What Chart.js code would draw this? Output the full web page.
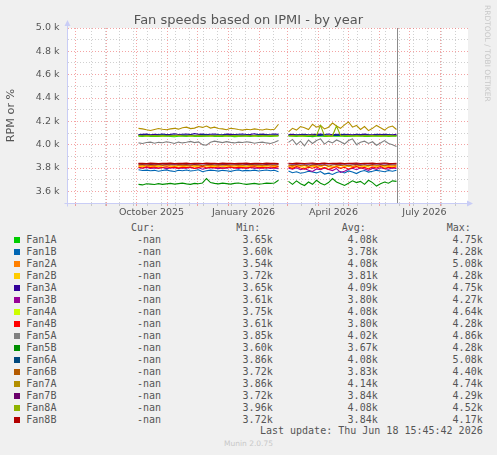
<!DOCTYPE html>
<html>
<head>
<meta charset="utf-8">
<script src="https://cdn.jsdelivr.net/npm/chart.js@4.4.0/dist/chart.umd.min.js"></script>
<style>
  html, body { margin: 0; padding: 0; background: #f0f0f0; }
  #wrap { position: relative; width: 497px; height: 455px; overflow: hidden; }
  #chart { position: absolute; left: 0; top: 0; }
  #title { position: absolute; left: 0; width: 497px; top: 11.5px; text-align: center; font-family: 'DejaVu Sans', sans-serif; font-size: 13px; line-height: 16px; color: #555; }
  .mono { position: absolute; font-family: 'DejaVu Sans Mono', monospace; font-size: 10px; line-height: 12px; color: #555; white-space: pre; }
  .sq { position: absolute; width: 6px; height: 6px; }
  #munin { position: absolute; left: 0; width: 497px; top: 439px; text-align: center; font-family: 'DejaVu Sans', sans-serif; font-size: 7.5px; line-height: 10px; color: #c8c8c8; }
  #rrd { position: absolute; left: 483px; top: 5px; writing-mode: vertical-rl; font-family: 'DejaVu Sans', sans-serif; font-size: 7.5px; line-height: 9px; color: #c8c8c8; }
</style>
</head>
<body>
<div id="wrap">
  <canvas id="chart" width="497" height="222"></canvas>
  <div id="title">Fan speeds based on IPMI - by year</div>
  <div id="legend"></div>
  <div id="rrd">RRDTOOL / TOBI OETIKER</div>
  <div id="munin">Munin 2.0.75</div>
</div>
<script>
// ---- data ----
const seriesNames = ['Fan1A','Fan1B','Fan2A','Fan2B','Fan3A','Fan3B','Fan4A','Fan4B','Fan5A','Fan5B','Fan6A','Fan6B','Fan7A','Fan7B','Fan8A','Fan8B'];
const seriesColors = ['#00cc00','#0066b3','#ff8000','#ffcc00','#330099','#990099','#ccff00','#ff0000','#808080','#008f00','#00487d','#b35a00','#b38f00','#6b006b','#8fb300','#b30000'];
const curValues = ['-nan','-nan','-nan','-nan','-nan','-nan','-nan','-nan','-nan','-nan','-nan','-nan','-nan','-nan','-nan','-nan'];
const minValues = ['3.65k','3.60k','3.54k','3.72k','3.65k','3.61k','3.75k','3.61k','3.85k','3.60k','3.86k','3.72k','3.86k','3.72k','3.96k','3.72k'];
const avgValues = ['4.08k','3.78k','4.08k','3.81k','4.09k','3.80k','4.08k','3.80k','4.02k','3.67k','4.08k','3.83k','4.14k','3.84k','4.08k','3.84k'];
const maxValues = ['4.75k','4.28k','5.08k','4.28k','4.75k','4.27k','4.64k','4.28k','4.86k','4.28k','5.08k','4.40k','4.74k','4.29k','4.52k','4.17k'];

// samples: 36 points from seg1Start, a gap, 28 points from seg2Start, every 4 days
const seg1Start = '2025-10-03';
const seg2Start = '2026-03-02';
const gapDate = '2026-02-25';
const sampleStepDays = 4;

const fan1A = [
  4072,4070,4074,4071,4073,4070,4072,4075,4071,4069,4073,4072,
  4070,4074,4071,4072,4070,4073,4075,4071,4072,4070,4074,4072,
  4069,4071,4073,4072,4070,4074,4071,4072,4073,4070,4072,4074,
  null,
  4074,4072,4070,4075,4071,4073,4069,4072,4074,4071,4070,4073,4072,4075,
  4071,4070,4073,4072,4074,4070,4071,4073,4072,4070,4074,4071,4072,4073];
const fan1B = [
  3785,3778,3782,3776,3780,3772,3779,3784,3775,3770,3781,3777,
  3783,3774,3779,3785,3768,3776,3782,3778,3773,3780,3776,3771,
  3779,3784,3775,3780,3777,3782,3774,3779,3783,3776,3781,3768,
  null,
  3775,3760,3768,3755,3762,3772,3765,3758,3770,3748,3756,3745,3762,3770,
  3758,3775,3766,3752,3770,3778,3765,3772,3780,3774,3768,3778,3772,3780];
const fan2A = [
  3822,3818,3825,3820,3823,3817,3821,3826,3819,3815,3824,3820,
  3822,3818,3825,3819,3810,3821,3824,3818,3822,3816,3823,3820,
  3818,3824,3821,3817,3823,3820,3825,3818,3822,3819,3824,3815,
  null,
  3820,3812,3826,3815,3822,3808,3824,3818,3812,3825,3816,3806,3820,3826,
  3814,3822,3810,3825,3818,3812,3824,3820,3815,3826,3818,3822,3816,3824];
const fan2B = [
  3812,3815,3808,3814,3810,3816,3811,3807,3813,3816,3809,3814,
  3811,3806,3814,3810,3815,3808,3812,3816,3809,3813,3811,3815,
  3808,3813,3816,3810,3814,3809,3812,3815,3811,3807,3814,3812,
  null,
  3815,3805,3812,3818,3800,3810,3816,3806,3814,3798,3812,3808,3816,3804,
  3812,3818,3802,3814,3808,3816,3810,3804,3814,3818,3808,3815,3810,3816];
const fan3A = [
  4086,4088,4090,4085,4089,4087,4092,4086,4088,4094,4087,4089,
  4091,4086,4095,4088,4090,4086,4089,4092,4087,4085,4090,4088,
  4086,4089,4091,4087,4088,4093,4086,4090,4087,4089,4092,4088,
  null,
  4086,4088,4084,4087,4089,4085,4088,4086,4090,4087,4092,4085,4088,4086,
  4089,4087,4085,4088,4086,4090,4087,4085,4088,4086,4089,4087,4085,4088];
const fan3B = [
  3802,3798,3805,3796,3801,3799,3804,3795,3800,3803,3797,3801,
  3799,3804,3796,3802,3790,3798,3803,3800,3795,3801,3798,3804,
  3800,3796,3802,3799,3805,3797,3801,3798,3803,3796,3800,3794,
  null,
  3798,3790,3802,3785,3795,3780,3770,3792,3785,3800,3788,3778,3795,3762,
  3772,3790,3798,3785,3802,3792,3780,3798,3788,3802,3795,3790,3800,3796];
const fan4A = [
  4076,4078,4075,4077,4079,4076,4074,4078,4077,4075,4079,4076,
  4078,4075,4077,4080,4076,4078,4074,4077,4079,4076,4075,4078,
  4077,4075,4079,4076,4078,4074,4077,4079,4076,4078,4075,4077,
  null,
  4078,4076,4079,4077,4075,4078,4080,4076,4077,4079,4075,4078,4076,4077,
  4079,4076,4078,4075,4077,4079,4076,4078,4077,4075,4079,4076,4078,4077];
const fan4B = [
  3806,3800,3810,3803,3808,3798,3805,3811,3802,3807,3799,3806,
  3803,3809,3797,3805,3812,3800,3806,3802,3808,3798,3804,3809,
  3801,3807,3803,3799,3806,3810,3802,3805,3800,3808,3803,3812,
  null,
  3808,3795,3812,3800,3790,3806,3798,3810,3792,3804,3788,3800,3810,3796,
  3806,3790,3802,3812,3798,3805,3792,3808,3800,3812,3796,3806,3802,3808];
const fan5A = [
  4015,4010,4018,4022,4012,4020,4016,4025,4018,4010,4022,4015,
  4020,4028,4018,4024,4000,3995,4020,4030,4024,4018,4026,4020,
  4015,4022,4018,4025,4020,4012,4018,4022,4015,4010,4020,4035,
  null,
  4020,4045,4000,4030,3990,4040,4010,4035,4050,4005,4030,4015,4040,4025,
  4005,4035,4050,4000,4020,4030,4010,4025,3995,4015,4035,4010,4000,3985];
const fan5B = [
  3660,3655,3665,3662,3658,3666,3660,3664,3668,3662,3666,3670,
  3664,3660,3668,3665,3672,3710,3675,3668,3664,3670,3666,3662,
  3668,3672,3665,3660,3664,3668,3662,3665,3670,3668,3672,3695,
  null,
  3685,3660,3690,3665,3650,3680,3660,3695,3670,3655,3675,3710,3680,3665,
  3650,3670,3690,3675,3685,3660,3695,3675,3645,3665,3680,3670,3690,3685];
const fan6A = [
  4082,4080,4083,4081,4079,4082,4084,4080,4081,4083,4079,4082,
  4080,4083,4081,4079,4084,4082,4080,4081,4083,4080,4082,4079,
  4081,4083,4080,4082,4079,4081,4084,4080,4082,4081,4083,4080,
  null,
  4081,4079,4082,4080,4083,4081,4079,4082,4080,4084,4081,4079,4082,4080,
  4083,4081,4079,4082,4080,4081,4083,4079,4082,4080,4081,4083,4080,4078];
const fan6B = [
  3828,3830,3826,3829,3827,3831,3825,3829,3828,3826,3830,3827,
  3829,3825,3830,3827,3820,3828,3831,3826,3829,3827,3830,3826,
  3828,3830,3826,3829,3831,3827,3828,3825,3830,3828,3826,3829,
  null,
  3826,3820,3830,3822,3828,3816,3826,3831,3820,3828,3815,3826,3830,3822,
  3828,3818,3826,3831,3822,3828,3820,3830,3824,3828,3820,3830,3826,3828];
const fan7A = [
  4140,4135,4128,4122,4130,4138,4132,4128,4135,4140,4133,4145,
  4150,4138,4142,4155,4148,4160,4142,4150,4138,4135,4128,4140,
  4136,4130,4125,4132,4128,4135,4130,4126,4134,4128,4132,4175,
  null,
  4110,4140,4125,4155,4145,4130,4175,4150,4165,4135,4150,4185,4160,4140,
  4170,4195,4150,4165,4130,4155,4120,4140,4165,4145,4125,4150,4160,4130];
const fan7B = [
  3835,3834,3836,3833,3835,3837,3834,3836,3835,3833,3836,3834,
  3835,3837,3833,3836,3834,3835,3837,3834,3836,3833,3835,3836,
  3834,3836,3835,3833,3837,3834,3836,3835,3833,3836,3834,3835,
  null,
  3836,3833,3835,3837,3834,3832,3836,3835,3833,3837,3834,3836,3835,3833,
  3836,3834,3837,3835,3833,3836,3834,3835,3837,3833,3836,3834,3835,3836];
const fan8A = [
  4078,4076,4079,4077,4078,4075,4079,4077,4076,4078,4080,4077,
  4076,4079,4077,4078,4075,4077,4079,4076,4078,4077,4079,4076,
  4078,4077,4075,4079,4076,4078,4077,4079,4076,4078,4077,4079,
  null,
  4077,4079,4076,4078,4077,4079,4076,4078,4165,4077,4079,4076,4160,4078,
  4076,4079,4077,4078,4076,4079,4077,4078,4076,4079,4077,4078,4076,4077];
const fan8B = [
  3840,3841,3839,3842,3840,3838,3841,3840,3842,3839,3841,3840,
  3842,3839,3841,3840,3838,3842,3840,3841,3839,3842,3840,3841,
  3839,3841,3840,3842,3838,3841,3840,3839,3842,3840,3841,3839,
  null,
  3841,3839,3842,3840,3838,3841,3843,3839,3840,3842,3838,3841,3840,3842,
  3839,3841,3840,3843,3838,3841,3840,3842,3839,3841,3843,3840,3838,3841];
const seriesValues = [fan1A,fan1B,fan2A,fan2B,fan3A,fan3B,fan4A,fan4B,fan5A,fan5B,fan6A,fan6B,fan7A,fan7B,fan8A,fan8B];

// axes
const xStart = '2025-07-23T12';
const xEnd = '2026-08-28T12';
const lastUpdate = '2026-06-18T15:45';
const monthGrid = ['2025-08-01','2025-09-01','2025-10-01','2025-11-01','2025-12-01','2026-01-01',
  '2026-02-01','2026-03-01','2026-04-01','2026-05-01','2026-06-01','2026-07-01','2026-08-01'];
const minorGridStart = '2025-08-17';
const minorGridStepDays = 14;
const xTickLabels = ['October 2025','January 2026','April 2026','July 2026'];
const xTickDates = ['2025-10-16','2026-01-16','2026-04-16','2026-07-16'];
const yMin = 3500, yMax = 5000, yStep = 100;
const yLabelValues = [3600,3800,4000,4200,4400,4600,4800,5000];

// ---- helpers ----
const DAY = 86400000;
function toTime(s) {
  const m = s.match(/(\d+)-(\d+)-(\d+)(?:T(\d+)(?::(\d+))?)?/);
  return Date.UTC(+m[1], +m[2] - 1, +m[3], +(m[4] || 0), +(m[5] || 0));
}

const sampleTimes = [];
for (let i = 0; i < 36; i++) sampleTimes.push(toTime(seg1Start) + i * sampleStepDays * DAY);
sampleTimes.push(toTime(gapDate));
for (let i = 0; i < 28; i++) sampleTimes.push(toTime(seg2Start) + i * sampleStepDays * DAY);

const xMin = toTime(xStart), xMax = toTime(xEnd);
const majorSet = new Set(monthGrid.map(toTime));
const minorSet = new Set();
for (let t = toTime(minorGridStart); t < xMax; t += minorGridStepDays * DAY) minorSet.add(t);
const labelMap = {};
xTickDates.forEach((d, i) => { labelMap[toTime(d)] = xTickLabels[i]; });
const xTicks = [...new Set([...majorSet, ...minorSet, ...Object.keys(labelMap).map(Number)])].sort((a, b) => a - b);

const majorColor = 'rgba(235,90,90,0.55)';
const minorColor = 'rgba(150,150,150,0.45)';
const axisColor = '#c9cdf6';
const textColor = '#555555';

const datasets = seriesNames.map((name, i) => ({
  label: name,
  data: sampleTimes.map((t, j) => ({ x: t, y: seriesValues[i][j] })),
  borderColor: seriesColors[i],
  borderWidth: 1.1,
  pointRadius: 0,
  tension: 0,
  order: seriesNames.length - i
}));

const plotDecor = {
  id: 'plotDecor',
  beforeDraw(chart) {
    const { ctx, chartArea: a } = chart;
    ctx.save();
    ctx.fillStyle = '#ffffff';
    ctx.fillRect(a.left, a.top, a.right - a.left, a.bottom - a.top);
    ctx.restore();
  },
  afterDatasetsDraw(chart) {
    const { ctx, chartArea: a } = chart;
    const x = Math.round(chart.scales.x.getPixelForValue(toTime(lastUpdate))) + 0.5;
    ctx.save();
    ctx.strokeStyle = '#8c8c8c';
    ctx.lineWidth = 1;
    ctx.beginPath();
    ctx.moveTo(x, a.top);
    ctx.lineTo(x, a.bottom);
    ctx.stroke();
    ctx.restore();
  },
  afterDraw(chart) {
    const { ctx, chartArea: a } = chart;
    const xl = Math.round(a.left) + 0.5, yb = Math.round(a.bottom) + 0.5;
    ctx.save();
    ctx.strokeStyle = axisColor;
    ctx.fillStyle = axisColor;
    ctx.lineWidth = 1;
    ctx.beginPath();
    ctx.moveTo(xl, a.top); ctx.lineTo(xl, a.top - 3);
    ctx.moveTo(xl, yb); ctx.lineTo(xl, yb + 3);
    ctx.moveTo(xl, yb); ctx.lineTo(xl - 3, yb);
    ctx.stroke();
    ctx.beginPath();
    ctx.moveTo(xl, a.top - 8); ctx.lineTo(xl - 3, a.top - 2); ctx.lineTo(xl + 3, a.top - 2);
    ctx.closePath(); ctx.fill();
    ctx.beginPath();
    ctx.moveTo(a.right + 5, yb); ctx.lineTo(a.right - 1, yb - 3); ctx.lineTo(a.right - 1, yb + 3);
    ctx.closePath(); ctx.fill();
    ctx.restore();
  }
};

new Chart(document.getElementById('chart'), {
  type: 'line',
  data: { datasets: datasets },
  plugins: [plotDecor],
  options: {
    responsive: false,
    animation: false,
    events: [],
    layout: { padding: { left: 0, right: 29, top: 28, bottom: 0 } },
    plugins: {
      legend: { display: false },
      tooltip: { enabled: false },
      title: { display: false }
    },
    scales: {
      x: {
        type: 'linear',
        min: xMin,
        max: xMax,
        afterBuildTicks: s => { s.ticks = xTicks.map(v => ({ value: v })); },
        afterFit: s => { s.height = 19; },
        ticks: {
          autoSkip: false,
          maxRotation: 0,
          padding: 1,
          color: textColor,
          font: { family: 'DejaVu Sans', size: 9.5 },
          callback: v => labelMap[v] || ''
        },
        grid: {
          color: c => majorSet.has(c.tick.value) ? majorColor : (minorSet.has(c.tick.value) ? minorColor : 'rgba(0,0,0,0)'),
          tickLength: 3,
          lineWidth: 1
        },
        border: { color: axisColor, width: 1, dash: [1, 2] }
      },
      y: {
        type: 'linear',
        min: yMin,
        max: yMax,
        afterBuildTicks: s => {
          const t = [];
          for (let v = yMin; v <= yMax; v += yStep) t.push({ value: v });
          s.ticks = t;
        },
        afterFit: s => { s.width = 67; },
        ticks: {
          autoSkip: false,
          padding: 7.5,
          color: textColor,
          font: { family: 'DejaVu Sans', size: 9.5 },
          callback: v => yLabelValues.includes(v) ? (v / 1000).toFixed(1) + ' k' : ''
        },
        grid: {
          color: c => c.tick.value === yMin ? 'rgba(0,0,0,0)' : (yLabelValues.includes(c.tick.value) ? majorColor : minorColor),
          drawTicks: false,
          lineWidth: 1
        },
        border: { color: axisColor, width: 1, dash: [1, 2] },
        title: {
          display: true,
          text: 'RPM or %',
          color: textColor,
          font: { family: 'DejaVu Sans', size: 11.2 },
          padding: { top: 4, bottom: 0 }
        }
      }
    }
  }
});

// ---- legend table ----
const legend = document.getElementById('legend');
function addText(text, top, left, right) {
  const el = document.createElement('div');
  el.className = 'mono';
  el.textContent = text;
  el.style.top = top + 'px';
  if (left !== null) el.style.left = left + 'px';
  else el.style.right = right + 'px';
  legend.appendChild(el);
}
const headerY = 228.3, rowY0 = 239.7, rowStep = 12;
addText('Cur:', headerY - 6, 131, null);
addText('Min:', headerY - 6, 236.3, null);
addText('Avg:', headerY - 6, 341.7, null);
addText('Max:', headerY - 6, 446.7, null);
seriesNames.forEach((name, i) => {
  const cy = rowY0 + i * rowStep;
  const sq = document.createElement('div');
  sq.className = 'sq';
  sq.style.left = '14px';
  sq.style.top = (cy - 3) + 'px';
  sq.style.background = seriesColors[i];
  legend.appendChild(sq);
  addText(name, cy - 6, 26.3, null);
  addText(curValues[i], cy - 6, null, 497 - 161);
  addText(minValues[i], cy - 6, null, 497 - 272.7);
  addText(avgValues[i], cy - 6, null, 497 - 377.7);
  addText(maxValues[i], cy - 6, null, 497 - 482.7);
});
addText('Last update: Thu Jun 18 15:45:42 2026', 431 - 6, null, 497 - 482.7);
</script>
</body>
</html>
